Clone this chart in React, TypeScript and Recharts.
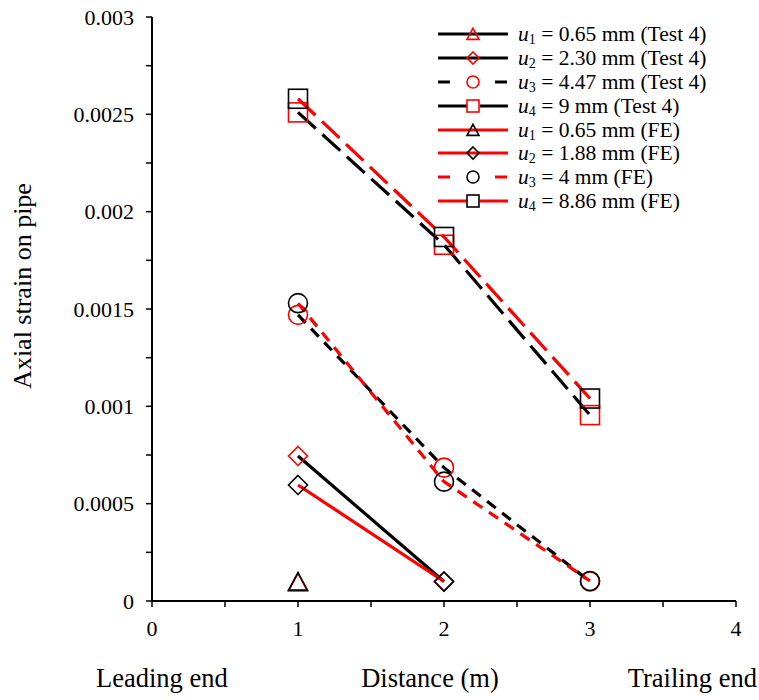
import React from "react";
import { LineChart, Line, XAxis, YAxis, Legend, Label } from "recharts";

// distance along the pipe (m)
const distances = [1, 2, 3];

// Test 4 (black lines, red markers)
const testU1 = [0.000095, null, null];
const testU2 = [0.000745, 0.0001, null];
const testU3 = [0.00147, 0.000685, 0.0001];
const testU4 = [0.00251, 0.00183, 0.000955];

// FE (red lines, black markers)
const feU1 = [0.0001, null, null];
const feU2 = [0.000596, 0.0001, null];
const feU3 = [0.00153, 0.000613, 0.000103];
const feU4 = [0.00258, 0.00187, 0.00104];

const xTicks = [0, 0.5, 1, 1.5, 2, 2.5, 3, 3.5, 4];
const yTicks = [0, 0.00025, 0.0005, 0.00075, 0.001, 0.00125, 0.0015, 0.00175, 0.002, 0.00225, 0.0025, 0.00275, 0.003];
const yTickLabels = ["0", "0.0005", "0.001", "0.0015", "0.002", "0.0025", "0.003"];

const data = distances.map((x, i) => ({
  x,
  t1: testU1[i],
  t2: testU2[i],
  t3: testU3[i],
  t4: testU4[i],
  f1: feU1[i],
  f2: feU2[i],
  f3: feU3[i],
  f4: feU4[i],
}));

const RED = "#ff0000";
const BLACK = "#000000";
const FONT = "Liberation Serif, DejaVu Serif, serif";

type Shape = "triangle" | "diamond" | "circle" | "square";

function Marker({ shape, cx, cy, color, r = 9.5 }: { shape: Shape; cx: number; cy: number; color: string; r?: number }) {
  const p = { fill: "none", stroke: color, strokeWidth: 1.6 };
  if (shape === "triangle") {
    return <polygon points={`${cx},${cy - r * 0.95} ${cx + r},${cy + r * 0.9} ${cx - r},${cy + r * 0.9}`} {...p} />;
  }
  if (shape === "diamond") {
    return <polygon points={`${cx},${cy - r} ${cx + r},${cy} ${cx},${cy + r} ${cx - r},${cy}`} {...p} />;
  }
  if (shape === "circle") {
    return <circle cx={cx} cy={cy} r={r} {...p} />;
  }
  return <rect x={cx - r} y={cy - r} width={r * 2} height={r * 2} {...p} />;
}

const makeDot = (shape: Shape, color: string) => (props: any) => {
  const { cx, cy, value, index, dataKey } = props;
  if (value == null || cx == null || cy == null) return <g key={`${dataKey}-${index}`} />;
  return (
    <g key={`${dataKey}-${index}`}>
      <Marker shape={shape} cx={cx} cy={cy} color={color} />
    </g>
  );
};

const series = [
  { key: "t1", shape: "triangle" as Shape, line: BLACK, mark: RED, dash: undefined, sub: "1", text: " = 0.65 mm (Test 4)" },
  { key: "t2", shape: "diamond" as Shape, line: BLACK, mark: RED, dash: undefined, sub: "2", text: " = 2.30 mm (Test 4)" },
  { key: "t3", shape: "circle" as Shape, line: BLACK, mark: RED, dash: "11 8", sub: "3", text: " = 4.47 mm (Test 4)" },
  { key: "t4", shape: "square" as Shape, line: BLACK, mark: RED, dash: "24 9", sub: "4", text: " = 9 mm (Test 4)" },
  { key: "f1", shape: "triangle" as Shape, line: RED, mark: BLACK, dash: undefined, sub: "1", text: " = 0.65 mm (FE)" },
  { key: "f2", shape: "diamond" as Shape, line: RED, mark: BLACK, dash: undefined, sub: "2", text: " = 1.88 mm (FE)" },
  { key: "f3", shape: "circle" as Shape, line: RED, mark: BLACK, dash: "11 8", sub: "3", text: " = 4 mm (FE)" },
  { key: "f4", shape: "square" as Shape, line: RED, mark: BLACK, dash: "24 9", sub: "4", text: " = 8.86 mm (FE)" },
];

const legendDash = (d?: string) => (d === "11 8" ? "12 45" : d === "24 9" ? "29 13" : undefined);

const LegendBox = () => (
  <div style={{ fontFamily: FONT, fontSize: 21.5, color: "#000", lineHeight: "24px" }}>
    {series.map((s) => (
      <div key={s.key} style={{ display: "flex", alignItems: "center", height: 23.9, whiteSpace: "nowrap" }}>
        <svg width={81} height={24} style={{ flex: "none" }}>
          <line x1={1} y1={12} x2={71} y2={12} stroke={s.line} strokeWidth={3.2} strokeDasharray={legendDash(s.dash)} />
          <Marker shape={s.shape} cx={36} cy={12} color={s.mark} r={6} />
        </svg>
        <span>
          <i>u</i>
          <sub style={{ fontSize: 14, verticalAlign: "-3px", lineHeight: 0 }}>{s.sub}</sub>
          {s.text}
        </span>
      </div>
    ))}
  </div>
);

const BottomTitles = (props: any) => {
  const vb = props.viewBox || { x: 0, y: 0, width: 0, height: 0 };
  const base = vb.y + 86;
  return (
    <g style={{ fontFamily: FONT, fontSize: 26.5 }} fill="#000">
      <text x={vb.x - 56} y={base} textAnchor="start">Leading end</text>
      <text x={vb.x + vb.width / 2 - 14} y={base} textAnchor="middle">Distance (m)</text>
      <text x={vb.x + vb.width + 21} y={base} textAnchor="end">Trailing end</text>
    </g>
  );
};

const SideTitle = (props: any) => {
  const vb = props.viewBox || { x: 0, y: 0, width: 0, height: 0 };
  const cx = 31;
  const cy = vb.y + vb.height / 2 - 23;
  return (
    <text x={cx} y={cy} transform={`rotate(-90 ${cx} ${cy})`} textAnchor="middle" style={{ fontFamily: FONT, fontSize: 26 }} fill="#000">
      Axial strain on pipe
    </text>
  );
};

export default function App() {
  const tickStyle = { fill: "#000", fontSize: 22, fontFamily: FONT };
  return (
    <div style={{ position: "absolute", left: 0, top: 0, background: "#fff" }}>
      <LineChart width={759} height={700} data={data} margin={{ top: 17, right: 23, left: 52, bottom: 59 }}>
        <XAxis
          type="number"
          dataKey="x"
          domain={[0, 4]}
          ticks={xTicks}
          interval={0}
          tickFormatter={(v: number) => (Number.isInteger(v) ? String(v) : "")}
          tick={tickStyle}
          axisLine={{ stroke: "#000", strokeWidth: 2 }}
          tickLine={{ stroke: "#000", strokeWidth: 1.5 }}
          tickSize={6}
          tickMargin={13}
          height={40}
        >
          <Label content={BottomTitles} />
        </XAxis>
        <YAxis
          type="number"
          domain={[0, 0.003]}
          ticks={yTicks}
          interval={0}
          tickFormatter={(_v: number, i: number) => (i % 2 === 0 ? yTickLabels[i / 2] : "")}
          tick={tickStyle}
          axisLine={{ stroke: "#000", strokeWidth: 2 }}
          tickLine={{ stroke: "#000", strokeWidth: 1.5 }}
          tickSize={6}
          tickMargin={12}
          width={100}
        >
          <Label content={SideTitle} />
        </YAxis>
        <Legend
          content={<LegendBox />}
          layout="vertical"
          align="center"
          verticalAlign="middle"
          wrapperStyle={{ position: "absolute", left: 437, top: 22, width: 300, height: "auto" }}
        />
        {series.map((s) => (
          <Line
            key={s.key}
            type="linear"
            dataKey={s.key}
            stroke={s.line}
            strokeWidth={3.2}
            strokeDasharray={s.dash}
            dot={makeDot(s.shape, s.mark)}
            activeDot={false}
            connectNulls={false}
            isAnimationActive={false}
            legendType="none"
          />
        ))}
      </LineChart>
    </div>
  );
}
